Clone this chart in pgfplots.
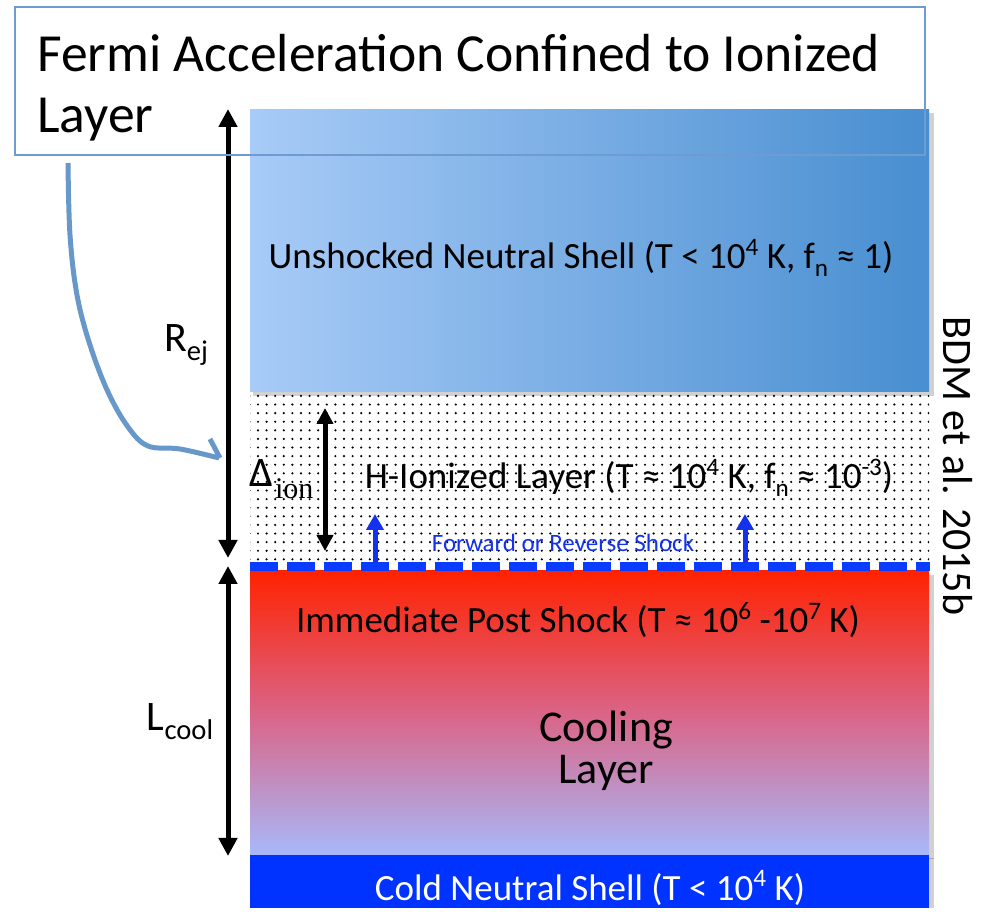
\documentclass[border=0pt]{standalone}
\usepackage{graphicx}
\usepackage{pgfplots}
\pgfplotsset{compat=1.18}
\usetikzlibrary{arrows.meta,patterns.meta}
\usepackage{fontspec}
\setmainfont{Carlito}
\newfontfamily\serifion{Liberation Serif}
\definecolor{topL}{RGB}{168,203,247}
\definecolor{topR}{RGB}{72,142,208}
\definecolor{redTop}{RGB}{255,34,0}
\definecolor{redMid}{RGB}{218,100,135}
\definecolor{redBot}{RGB}{168,185,250}
\definecolor{coldBlue}{RGB}{0,51,255}
\definecolor{dashBlue}{RGB}{10,60,255}
\definecolor{arrowBlue}{RGB}{20,50,235}
\definecolor{curveBlue}{RGB}{104,152,202}
\definecolor{boxBlue}{RGB}{110,155,210}
\newcommand\sups[1]{\raisebox{0.75ex}{\scalebox{0.68}{#1}}}
\newcommand\subs[1]{\raisebox{-0.45ex}{\scalebox{0.68}{#1}}}
\begin{document}
\begin{tikzpicture}
\begin{axis}[width=493pt,height=454pt,scale only axis,hide axis,
  xmin=0,xmax=986,ymin=0,ymax=908,y dir=reverse,clip=false,no markers]
\addplot[draw=none] coordinates {(0,0) (986,908)};
% shadows
\addplot[draw=none, fill=black, fill opacity=0.18] coordinates {(253,113) (934,113) (934,396) (253,396)} -- cycle;
\addplot[draw=none, fill=black, fill opacity=0.18] coordinates {(253,575) (934,575) (934,859) (253,859)} -- cycle;
\addplot[draw=none, fill=black, fill opacity=0.18] coordinates {(253,858) (934,858) (934,908) (253,908)} -- cycle;
% top panel
\addplot[draw=none, left color=topL, right color=topR] coordinates {(250,110) (929,110) (929,392) (250,392)} -- cycle;
% dotted ionized layer
\addplot[draw=none, pattern={Dots[distance=4.3pt, radius=0.6pt]}, pattern color=black] coordinates {(250,394) (929,394) (929,561) (250,561)} -- cycle;
% red cooling panel
\addplot[draw=none, top color=redTop, bottom color=redBot, middle color=redMid] coordinates {(250,571) (929,571) (929,855) (250,855)} -- cycle;
% cold neutral shell
\addplot[draw=none, fill=coldBlue] coordinates {(250,855) (929,855) (929,908) (250,908)} -- cycle;
% shock front dashed line
\addplot[dashBlue, line width=4.5pt, dash pattern=on 14pt off 4.5pt] coordinates {(250,566.5) (930,566.5)};
% blue shock arrows
\addplot[arrowBlue, line width=2.5pt, -{Triangle[length=8pt,width=8.5pt]}] coordinates {(375,563) (375,514)};
\addplot[arrowBlue, line width=2.5pt, -{Triangle[length=8pt,width=8.5pt]}] coordinates {(745,563) (745,514)};
% black double arrows
\addplot[black, line width=2.5pt, {Triangle[length=9pt,width=9pt]}-{Triangle[length=9pt,width=9pt]}] coordinates {(228,109) (228,558)};
\addplot[black, line width=2.5pt, {Triangle[length=9pt,width=9pt]}-{Triangle[length=9pt,width=9pt]}] coordinates {(228,566) (228,856)};
\addplot[black, line width=2.5pt, {Triangle[length=8pt,width=8pt]}-{Triangle[length=8pt,width=8pt]}] coordinates {(325,408) (325,551)};
% curved pointer
\addplot[curveBlue, line width=2.5pt, smooth, tension=0.6] coordinates {(68,163) (70,235) (77,295) (90,345) (108,392) (128,427) (148,446) (180,449) (219,458)};
\addplot[curveBlue, line width=2.5pt] coordinates {(210,439) (220,458)};
% texts
\node[anchor=base west, inner sep=0pt, font=\fontsize{26.8}{30}\selectfont] at (axis cs:37,72) {Fermi Acceleration Confined to Ionized};
\node[anchor=base west, inner sep=0pt, font=\fontsize{26.8}{30}\selectfont] at (axis cs:37,133) {Layer};
\node[font=\fontsize{18.5}{22}\selectfont] at (axis cs:581,258) {Unshocked Neutral Shell (T < 10\sups{4} K, f\subs{n} ≈ 1)};
\node[font=\fontsize{18.5}{22}\selectfont] at (axis cs:629,478) {H-Ionized Layer (T ≈ 10\sups{4} K, f\subs{n} ≈ 10\sups{-3})};
\node[font=\fontsize{12.5}{15}\selectfont, text=arrowBlue] at (axis cs:563,543) {Forward or Reverse Shock};
\node[font=\fontsize{18.5}{22}\selectfont] at (axis cs:578,620) {Immediate Post Shock (T ≈ 10\sups{6} -10\sups{7} K)};
\node[font=\fontsize{22}{22}\selectfont, align=center] at (axis cs:606,751) {Cooling\\[-1pt]Layer};
\node[font=\fontsize{18.5}{22}\selectfont, text=white] at (axis cs:590,888) {Cold Neutral Shell (T < 10\sups{4} K)};
\node[font=\fontsize{21}{24}\selectfont] at (axis cs:186,345) {R\subs{ej}};
\node[font=\fontsize{21}{24}\selectfont] at (axis cs:180,722) {L\subs{cool}};
\node[anchor=base west, inner sep=0pt, font=\fontsize{21}{22}\selectfont] at (axis cs:249,487) {Δ\hspace{1pt}\raisebox{-6pt}{\fontsize{15}{15}\serifion ion}};
\node[font=\fontsize{21}{24}\selectfont, rotate=-90] at (axis cs:958,466) {BDM et al. 2015b};
% title box
\addplot[boxBlue, line width=1pt] coordinates {(15,7) (925,7) (925,155) (15,155)} -- cycle;
\end{axis}
\end{tikzpicture}
\end{document}
